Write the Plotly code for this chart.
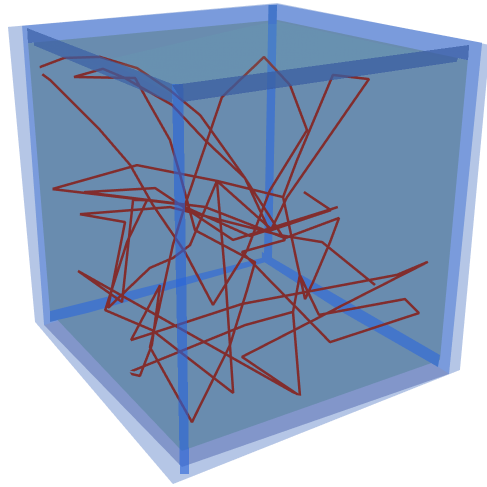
import numpy as np
import plotly.graph_objects as go

# path of the red line inside the cube, thousandths of the cube side
line_x = np.array([405,217,400,459,879,977,724,338,300,608,735,926,512,473,226,262,208,401,411,284,459,284,
    362,177,299,311,369,367,608,721,685,796,813,949,978,956,848,856,842,653,701,317,512,288,348,236,619,777,
    694,856,863,936,688,536,338,719,790,690,797,733,941,851,823,656,678,566,279,507,314,37,71,342,226,468,555,468,
    669,958,951,855,858,909,585,81,34,268,661,555,937,916,809,795,803,927,902,752,620,459,791,719,798,884,872,947,
    697,386,174,211]) / 1000
line_y = np.array([739,671,576,308,553,28,500,356,789,644,362,215,308,741,724,728,598,776,733,484,308,484,
    645,583,865,541,524,356,596,644,399,413,175,238,25,98,208,451,565,404,670,308,703,599,572,275,596,644,
    393,576,522,937,752,625,394,596,644,396,488,255,284,288,383,354,596,644,501,548,827,975,932,788,539,796,958,796,
    808,538,627,521,617,474,666,889,973,853,782,958,79,441,345,423,251,302,634,869,621,308,692,439,419,214,415,210,
    390,604,594,909]) / 1000
line_z = np.array([591,473,413,516,704,505,546,298,538,453,558,539,432,461,465,391,174,246,362,475,516,475,
    657,880,919,498,380,523,714,834,855,926,928,942,887,863,722,675,587,333,272,218,607,728,864,900,861,599,
    365,232,100,117,167,253,207,494,686,710,841,872,897,912,898,802,752,637,320,351,79,170,214,174,182,231,47,231,
    259,48,87,105,363,118,236,288,356,229,130,47,209,244,529,549,351,152,235,89,295,516,500,343,321,105,493,468,
    496,401,320,298]) / 1000

# vertices of the walls and the bars along the cube edges, same units
wall_x = np.array([1016,-63,-69,-135,1012,1081,-35,993,-28,-4,-60,997,1065,-14,1000,8,68,-22,997,1040,0,
    68,41,29,60,1055,35,49,1065,61,27,42,77,805,-12,47,986,993,975,983,1004,981,993,990,983,993,24,15,972]) / 1000
wall_y = np.array([-82,-52,983,1075,952,-103,-10,0,-6,1000,1080,983,-30,15,66,45,1014,1056,987,-8,32,
    65,85,103,81,55,94,117,71,65,1084,1095,90,196,18,990,1033,1003,1016,998,983,9,1003,995,3,1004,978,977,1007]) / 1000
wall_z = np.array([998,1039,994,-71,-49,-43,-54,1007,1039,1005,-54,29,-26,-8,966,989,968,5,87,33,17,
    1043,1043,28,28,72,36,-15,38,51,60,25,-4,921,986,964,966,991,991,9,8,1001,991,955,959,989,999,960,957]) / 1000

eye = dict(x=1.0324, y=1.4947, z=0.7455)
center = dict(x=0.1611, y=0.2707, z=0.0076)
up = dict(x=-0.4883, y=-0.7227, z=1)
aspect = dict(x=0.9814 * 1.4, y=0.9517 * 1.4, z=1.0612 * 1.4)

LIGHT = "rgb(181,198,230)"
MEDIUM = "rgb(122,155,220)"
MEDIUM_LOW = "rgb(130,150,202)"
WALL = "rgb(105,140,175)"
BAR = "rgb(68,118,202)"

fig = go.Figure()


def quad(ids, color, opacity=1.0):
    fig.add_trace(go.Mesh3d(
        x=wall_x[ids], y=wall_y[ids], z=wall_z[ids],
        i=[0, 0], j=[1, 2], k=[2, 3],
        color=color,
        opacity=opacity,
        flatshading=True,
        hoverinfo="skip",
        lighting=dict(ambient=1, diffuse=0, specular=0, roughness=1, fresnel=0)
    ))


# three nested shells, only the far sides
for s, back, low in [(0, LIGHT, LIGHT), (7, MEDIUM, MEDIUM_LOW), (14, WALL, WALL)]:
    quad([s, s + 1, s + 6, s + 5], back)
    quad([s + 1, s + 2, s + 3, s + 6], back)
    quad([s + 5, s + 6, s + 3, s + 4], low)

# far edges
quad([21, 22, 23, 24], BAR)
quad([25, 26, 27, 28], BAR)
quad([29, 30, 31, 32], BAR)

fig.add_trace(go.Scatter3d(
    x=line_x, y=line_y, z=line_z,
    mode="lines",
    hoverinfo="skip",
    line=dict(color="rgb(130,45,45)", width=5)
))

# near side, see-through so the line shows under it
quad([33, 34, 35, 36], "rgb(100,170,180)", 0.15)
quad([37, 38, 39, 40], "rgb(38,98,217)", 0.6)
quad([41, 42, 43, 44], "rgb(58,95,165)", 0.7)
quad([45, 46, 47, 48], "rgb(55,90,161)", 0.7)

hidden = dict(visible=False, range=[-0.2, 1.2])
fig.update_layout(
    width=487,
    height=487,
    margin=dict(l=0, r=0, t=0, b=0),
    showlegend=False,
    paper_bgcolor="white",
    scene=dict(
        xaxis=hidden,
        yaxis=hidden,
        zaxis=hidden,
        aspectmode="manual",
        aspectratio=aspect,
        camera=dict(eye=eye, center=center, up=up, projection=dict(type="perspective"))
    )
)

fig.write_html("out.html", config={"displayModeBar": False}, post_script="document.body.style.margin='0';")
